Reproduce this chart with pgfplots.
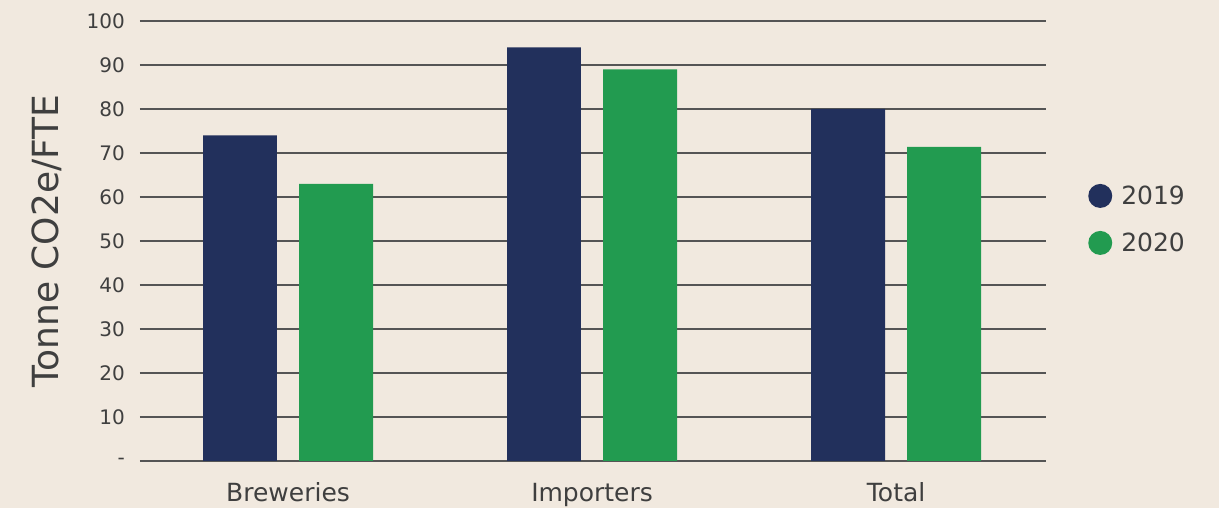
\documentclass[border=0pt]{standalone}
\usepackage{pgfplots}
\pgfplotsset{compat=1.18}
\usepackage{fontspec}
\setmainfont{DejaVu Sans}
\definecolor{bg}{HTML}{F1E9DF}
\definecolor{navy}{HTML}{22305C}
\definecolor{barg}{HTML}{229B50}
\definecolor{gridc}{HTML}{555555}
\definecolor{txt}{HTML}{3F3F3F}
\begin{document}
\begin{tikzpicture}[x=1pt,y=1pt]
\useasboundingbox[fill=bg] (0,0) rectangle (1219,508);
\begin{axis}[
  at={(140pt,47pt)}, anchor=south west,
  scale only axis, width=906pt, height=440pt,
  xmin=-0.487, xmax=2.493, ymin=0, ymax=100,
  axis line style={draw=none},
  major tick length=0pt,
  ymajorgrids, grid style={color=gridc, line width=1.2pt},
  xtick={0,1,2}, xticklabels={Breweries,Importers,Total},
  ytick={0,10,20,30,40,50,60,70,80,90,100},
  yticklabels={-,10,20,30,40,50,60,70,80,90,100},
  yticklabel style={anchor=east, inner sep=0pt, xshift=-15pt, font=\fontsize{20}{24}\selectfont, text=txt},
  xticklabel style={anchor=base, inner sep=0pt, yshift=-41pt, font=\fontsize{25}{30}\selectfont, text=txt},
  ylabel={Tonne CO2e/FTE},
  ylabel style={at={(axis description cs:-0.1026,0.5)}, anchor=center, font=\fontsize{36}{42}\selectfont, text=txt},
  legend style={at={(axis description cs:1.0431,0.549)}, anchor=west, draw=none, fill=none,
    font=\fontsize{25}{30}\selectfont, text=txt, row sep=23pt,
    nodes={inner sep=0pt, inner xsep=9pt}},
  legend cell align=left,
  clip=false,
]
\addplot[ybar, bar width=0.243, bar shift=-0.158, fill=navy, draw=none,
  legend image code/.code={\path[fill=navy] (12pt,0pt) circle (12pt);}]
  coordinates {(0,74) (1,94) (2,80)};
\addlegendentry{2019}
\addplot[ybar, bar width=0.243, bar shift=0.158, fill=barg, draw=none,
  legend image code/.code={\path[fill=barg] (12pt,0pt) circle (12pt);}]
  coordinates {(0,63) (1,89) (2,71.4)};
\addlegendentry{2020}
\end{axis}
\end{tikzpicture}
\end{document}
